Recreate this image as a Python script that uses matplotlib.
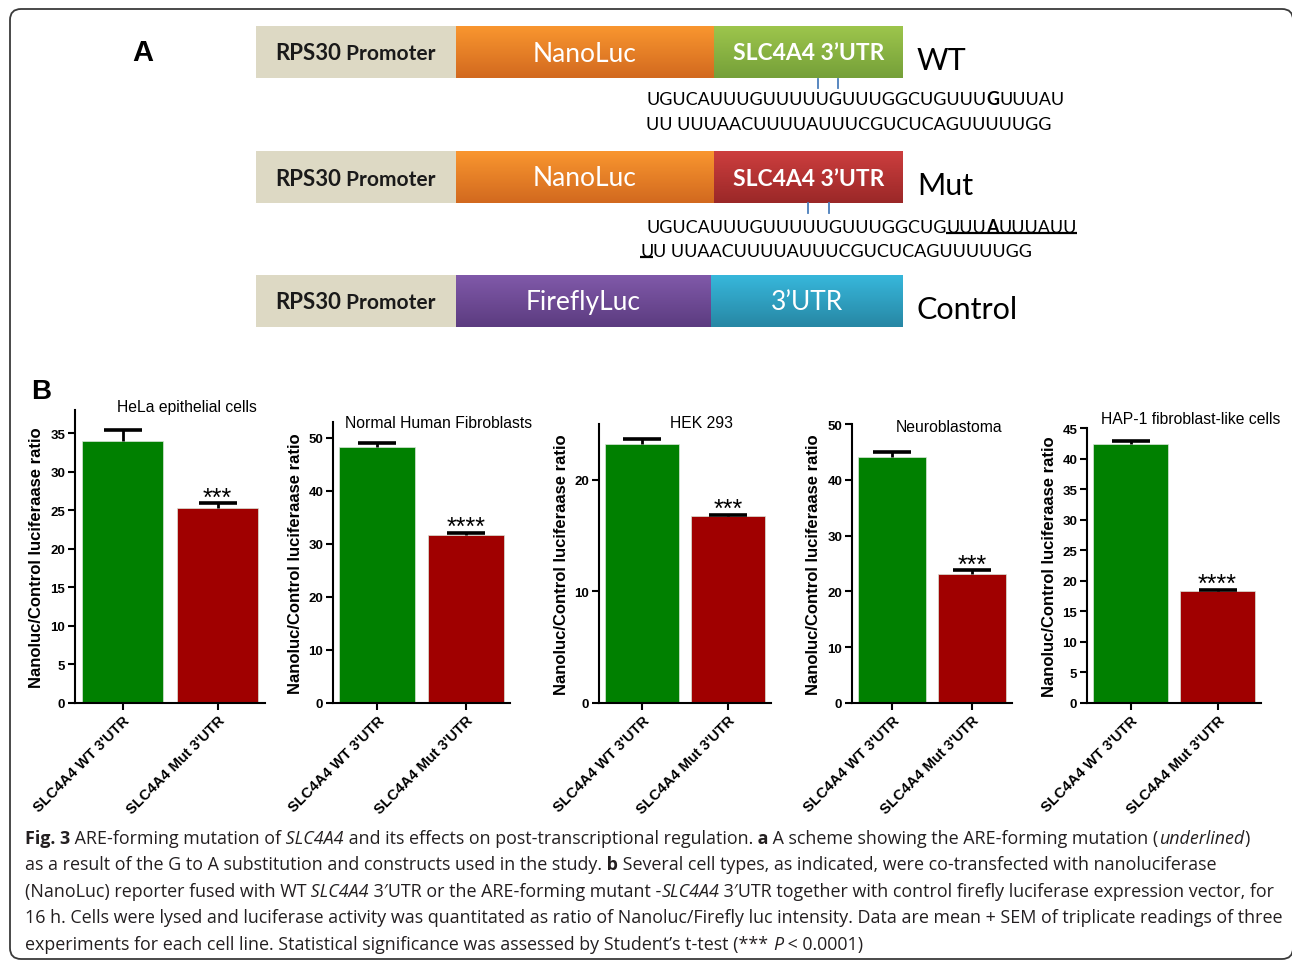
import numpy as np
import matplotlib
import matplotlib.pyplot as plt
import matplotlib.colors as mcolors
from matplotlib.patches import FancyBboxPatch

# --- data (panel B) ---
cell_lines = ["HeLa epithelial cells", "Normal Human Fibroblasts", "HEK 293",
              "Neuroblastoma", "HAP-1 fibroblast-like cells"]
constructs = ["SLC4A4 WT 3'UTR", "SLC4A4 Mut 3'UTR"]
wt_mean = [34.0, 48.3, 23.2, 44.1, 42.4]
wt_sem = [1.4, 0.75, 0.45, 0.9, 0.5]
mut_mean = [25.3, 31.7, 16.75, 23.1, 18.3]
mut_sem = [0.6, 0.4, 0.12, 0.7, 0.25]
stars = ["***", "****", "***", "***", "****"]
y_max = [38, 53, 25, 50, 45]
y_step = [5, 10, 10, 10, 5]
y_label = "Nanoluc/Control luciferaase ratio"

# --- panel A sequences ---
wt_seq1 = [("UGUCAUUUGUUUUUGUUUGGCUGUUU", ""), ("G", "b"), ("UUUAU", "")]
wt_seq2 = [("UU UUUAACUUUUAUUUCGUCUCAGUUUUUGG", "")]
mut_seq1 = [("UGUCAUUUGUUUUUGUUUGGCUG", ""), ("UUU", "u"), ("A", "bu"), ("UUUAUU", "u")]
mut_seq2 = [("U", "u"), ("U UUAACUUUUAUUUCGUCUCAGUUUUUGG", "")]

caption = [
    [("Fig. 3", "b"), (" ARE-forming mutation of", ""), (" SLC4A4", "i"),
     (" and its effects on post-transcriptional regulation.", ""), (" a", "b"),
     (" A scheme showing the ARE-forming mutation (", ""), ("underlined", "i"), (")", "")],
    [("as a result of the G to A substitution and constructs used in the study.", ""), (" b", "b"),
     (" Several cell types, as indicated, were co-transfected with nanoluciferase", "")],
    [("(NanoLuc) reporter fused with WT", ""), (" SLC4A4", "i"),
     (" 3\u2032UTR or the ARE-forming mutant -", ""), ("SLC4A4", "i"),
     (" 3\u2032UTR together with control firefly luciferase expression vector, for", "")],
    [("16 h. Cells were lysed and luciferase activity was quantitated as ratio of Nanoluc/Firefly "
      "luc intensity. Data are mean + SEM of triplicate readings of three", "")],
    [("experiments for each cell line. Statistical significance was assessed by Student\u2019s t-test (*** ", ""),
     ("P", "i"), (" < 0.0001)", "")],
]

W, H = 1292, 962
SCHEME_FONT = "Lato"
CAP_FONT = "Open Sans"
PANEL_FONT = "Liberation Sans"

fig = plt.figure(figsize=(W / 100, H / 100), dpi=100)
bg = fig.add_axes([0, 0, 1, 1])
bg.axis("off")


def grad_box(x0, x1, y0, y1, top, bottom):
    c = np.linspace(0, 1, 64)[:, None, None]
    t = np.array(mcolors.to_rgb(top))[None, None, :]
    b = np.array(mcolors.to_rgb(bottom))[None, None, :]
    img = t * (1 - c) + b * c
    bg.imshow(img, extent=(x0, x1, y1, y0), aspect="auto", interpolation="bilinear", zorder=2)


def rich(x, y, segs, size, family, color="black"):
    prev = None
    out = []
    for txt, st in segs:
        kw = dict(fontsize=size, family=family, color=color,
                  fontweight="bold" if "b" in st else "normal",
                  fontstyle="italic" if "i" in st else "normal", ha="left", zorder=4)
        if prev is None:
            t = bg.text(x, y, txt, va="baseline", **kw)
        else:
            t = bg.annotate(txt, xy=(1, 0), xycoords=prev, va="bottom", **kw)
        out.append((t, st))
        prev = t
    return out


# outer frame (right side falls just outside the picture)
bg.add_patch(FancyBboxPatch((10, 10), 1283, 950, boxstyle="round,pad=0,rounding_size=11",
                            fc="none", ec="#3a3a3a", lw=1.3, zorder=1))

# --- panel A: constructs ---
bg.text(143, 53, "A", fontsize=21, fontweight="bold", family=PANEL_FONT, ha="center", va="center")
rows = [
    (27, [("NanoLuc", 456, 714, "#f9962f", "#d2691f", ""),
          ("SLC4A4 3\u2019UTR", 714, 903, "#9dc54c", "#75a039", "b")], "WT"),
    (152, [("NanoLuc", 456, 714, "#f9962f", "#d2691f", ""),
           ("SLC4A4 3\u2019UTR", 714, 903, "#cd3e3e", "#9a2828", "b")], "Mut"),
    (276, [("FireflyLuc", 456, 711, "#8059a9", "#5c3c80", ""),
           ("3\u2019UTR", 711, 903, "#37b7db", "#2787a4", "")], "Control"),
]
for y0, parts, tag in rows:
    y1 = y0 + 52
    bg.add_patch(plt.Rectangle((256, y0), 200, 52, fc="#ddd9c4", ec="none", zorder=2))
    t = bg.text(275, y0 + 27, "RPS30", fontsize=16, fontweight="bold", family=SCHEME_FONT,
                color="#1a1a1a", va="center", ha="left", zorder=4)
    bg.annotate(" Promoter", xy=(1, 0), xycoords=t, fontsize=15, fontweight="bold",
                family=SCHEME_FONT, color="#1a1a1a", va="bottom", ha="left", zorder=4)
    for label, xa, xb, ctop, cbot, st in parts:
        grad_box(xa, xb, y0, y1, ctop, cbot)
        bg.text((xa + xb) / 2, y0 + 27, label, color="white", family=SCHEME_FONT,
                fontsize=16.5 if st else 19, fontweight="bold" if st else "normal",
                ha="center", va="center", zorder=4)
    bg.text(917, y0 + 34, tag, fontsize=22, family=SCHEME_FONT, ha="left", va="center", zorder=4)

# blue markers linking to the sequence
for xs, ya, yb in [((818, 838), 80, 89), ((808, 829), 204, 214)]:
    for xm in xs:
        bg.plot([xm, xm], [ya, yb], color="#4a7ebb", lw=1.3, zorder=3)

seq_items = []
seq_items += rich(646, 105, wt_seq1, 13, SCHEME_FONT)
seq_items += rich(646, 130, wt_seq2, 13, SCHEME_FONT)
seq_items += rich(646, 233, mut_seq1, 13, SCHEME_FONT)
seq_items += rich(640, 257, mut_seq2, 13, SCHEME_FONT)

# --- caption ---
for i, line in enumerate(caption):
    rich(25, 844 + i * 26.4, line, 12.9, CAP_FONT, color="#231f20")

bg.text(41, 392, "B", fontsize=20, fontweight="bold", family=PANEL_FONT, ha="center", va="center")

# --- panel B: bar charts ---
# (left, right, top) of each plot area in pixels, title vertical offset in px
frames = [(75, 265, 411, 3), (333, 510, 423, -1), (599, 771, 425, 2),
          (852, 1012, 425, -2), (1087, 1261, 429, 9)]
bottom_px = 704
for k, (l, r, top, tdy) in enumerate(frames):
    ax = fig.add_axes([l / W, (H - bottom_px) / H, (r - l) / W, (bottom_px - top) / H])
    x = np.arange(2)
    means = [wt_mean[k], mut_mean[k]]
    sems = [wt_sem[k], mut_sem[k]]
    ax.bar(x, means, width=0.86, color=["#008000", "#a00000"], edgecolor="#d9e6d9",
           linewidth=0.5, zorder=2)
    _, caps, _ = ax.errorbar(x, means, yerr=[[0, 0], sems], fmt="none", ecolor="black",
                             elinewidth=2, capsize=14, capthick=2.6, zorder=3)
    caps[0].set_visible(False)  # only the upper half of the SEM is shown
    ax.annotate(stars[k], xy=(1, means[1] + sems[1]), xytext=(0, -4.5), textcoords="offset points",
                ha="center", va="bottom", fontsize=18, family=PANEL_FONT)
    ax.set_xlim(-0.5, 1.5)
    ax.set_ylim(0, y_max[k])
    ax.set_yticks(np.arange(0, y_max[k] + 0.01, y_step[k]))
    ax.set_xticks(x)
    ax.set_xticklabels(constructs, rotation=45, ha="right", va="top", rotation_mode="anchor",
                       fontweight="bold", fontsize=10.5, family=PANEL_FONT)
    for lab in ax.get_yticklabels():
        lab.set_fontweight("bold")
        lab.set_fontsize(9.5)
        lab.set_family(PANEL_FONT)
    for s in ["top", "right"]:
        ax.spines[s].set_visible(False)
    for s in ["left", "bottom"]:
        ax.spines[s].set_linewidth(1.5)
    ax.tick_params(width=1.5, length=5, pad=2)
    ax.patch.set_alpha(0)
    ax.text(-38 / (r - l), 0.5, y_label, transform=ax.transAxes, rotation=90, ha="center",
            va="center", fontsize=12, fontweight="bold", family=PANEL_FONT)
    ax.annotate(cell_lines[k], xy=(0.5, 1), xycoords="axes fraction", xytext=(12, tdy * 0.72),
                textcoords="offset points", ha="center", va="center", fontsize=11.3,
                family=PANEL_FONT)

bg.set_xlim(0, W)
bg.set_ylim(H, 0)

# underlines under the mutated stretch (measured after layout)
fig.canvas.draw()
inv = bg.transData.inverted()
renderer = fig.canvas.get_renderer()
for t, st in seq_items:
    if "u" in st:
        bb = t.get_window_extent(renderer)
        (xa, ya), (xb, yb) = inv.transform([(bb.x0, bb.y0), (bb.x1, bb.y0)])
        bg.plot([xa, xb], [ya - 2, yb - 2], color="black", lw=1.6, zorder=4,
                solid_capstyle="butt")

fig.savefig("out.png", dpi=100)
